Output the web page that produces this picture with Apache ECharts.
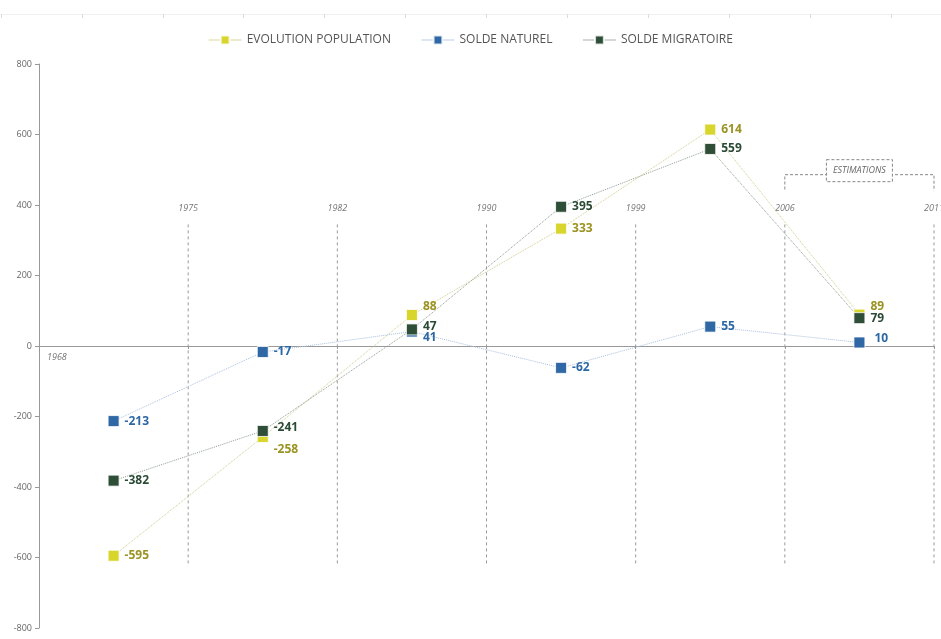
<!DOCTYPE html>
<html>
<head>
<meta charset="utf-8">
<script src="https://cdn.jsdelivr.net/npm/echarts@6/dist/echarts.min.js"></script>
<style>
  html, body { margin: 0; padding: 0; background: #fff; }
  #chart { width: 941px; height: 639px; }
</style>
</head>
<body>
<div id="chart"></div>
<script>
// Periods between censuses (one point per period) and the census years bounding them
const periods = ['1968-1975', '1975-1982', '1982-1990', '1990-1999', '1999-2006', '2006-2011'];
const yearMarks = ['1968', '1975', '1982', '1990', '1999', '2006', '2011'];

// Values per period
const evolutionPopulation = [-595, -258, 88, 333, 614, 89];
const soldeNaturel = [-213, -17, 41, -62, 55, 10];
const soldeMigratoire = [-382, -241, 47, 395, 559, 79];

const seriesNames = ['EVOLUTION POPULATION', 'SOLDE NATUREL', 'SOLDE MIGRATOIRE'];
const estimationsText = 'ESTIMATIONS';

// Y axis range
const yMin = -800, yMax = 800, yStep = 200;

// Small nudges for value labels that would otherwise collide
const popLabelShift = [[0, 0], [0, 13], [0, -8], [0, 0], [0, 0], [0, -8]];
const natLabelShift = [[0, 0], [0, 0], [0, 6], [0, 0], [0, 0], [4, -4]];
const migLabelShift = [[0, 0], [0, -3], [0, -3], [0, 0], [0, 0], [0, 0]];

const FONT = '"Open Sans", "DejaVu Sans", sans-serif';

function lineSeries(name, values, shifts, markerColor, lineColor, labelColor) {
  return {
    name: name,
    type: 'line',
    xAxisIndex: 0,
    yAxisIndex: 0,
    data: values.map((v, i) => ({ value: v, label: { offset: shifts[i] } })),
    symbol: 'rect',
    symbolSize: 11,
    z: 5,
    lineStyle: { color: lineColor, width: 1, type: 'dotted' },
    itemStyle: { color: markerColor, borderColor: 'rgba(255,255,255,0.8)', borderWidth: 1 },
    label: {
      show: true,
      position: 'right',
      distance: 5,
      color: labelColor,
      fontWeight: 'bold',
      fontSize: 12,
      fontFamily: FONT
    },
    emphasis: { disabled: true }
  };
}

const chart = echarts.init(document.getElementById('chart'), null, { renderer: 'canvas' });

chart.setOption({
  animation: false,
  backgroundColor: '#fff',
  legend: {
    top: 29,
    left: 'center',
    itemWidth: 33,
    itemHeight: 11,
    itemGap: 30,
    data: seriesNames,
    lineStyle: { type: 'solid', width: 1, opacity: 0.8 },
    textStyle: { color: '#555', fontSize: 12, fontFamily: FONT }
  },
  grid: [
    { left: 39, right: 7, top: 64, bottom: 11, containLabel: false },
    { left: 1, right: 0, top: 13, height: 1 }
  ],
  xAxis: [
    {
      type: 'category',
      gridIndex: 0,
      data: periods,
      boundaryGap: true,
      axisLine: { onZero: true, lineStyle: { color: '#999', width: 1 } },
      axisTick: { show: true, length: 3, lineStyle: { color: '#999' } },
      axisLabel: { show: false },
      splitLine: { show: false }
    },
    {
      // census boundaries: 0 = 1968 ... 6 = 2011
      type: 'value',
      gridIndex: 0,
      min: 0,
      max: yearMarks.length - 1,
      show: false
    },
    {
      // faint ruler across the top
      type: 'value',
      gridIndex: 1,
      min: 0,
      max: 11.62,
      interval: 1,
      position: 'top',
      axisLine: { show: true, lineStyle: { color: '#f0f0f0' } },
      axisTick: { show: true, inside: true, length: 4, lineStyle: { color: '#dcdcdc' } },
      axisLabel: { show: false },
      splitLine: { show: false }
    }
  ],
  yAxis: [
    {
      type: 'value',
      gridIndex: 0,
      min: yMin,
      max: yMax,
      interval: yStep,
      axisLine: { show: true, lineStyle: { color: '#999', width: 1 } },
      axisTick: { show: true, length: 4, lineStyle: { color: '#999' } },
      axisLabel: { color: '#666', fontSize: 9, fontFamily: FONT, margin: 7 },
      splitLine: { show: false }
    },
    { type: 'value', gridIndex: 1, show: false, min: 0, max: 1 }
  ],
  series: [
    // census year markers and dashed separators
    {
      type: 'custom',
      xAxisIndex: 1,
      yAxisIndex: 0,
      silent: true,
      z: 1,
      data: yearMarks.map((y, i) => [i]),
      renderItem: function (params, api) {
        const i = api.value(0);
        const text = yearMarks[i];
        const textStyle = { text: text, fill: '#777', font: 'italic 9px ' + FONT };
        if (i === 0) {
          const p = api.coord([0, 0]);
          return {
            type: 'text', x: p[0] + 8, y: p[1] + 11,
            style: Object.assign({ align: 'left', verticalAlign: 'middle' }, textStyle)
          };
        }
        const top = api.coord([i, 345]);
        const bot = api.coord([i, -620]);
        const lab = api.coord([i, 390]);
        return {
          type: 'group',
          children: [
            {
              type: 'line',
              shape: { x1: top[0], y1: top[1], x2: bot[0], y2: bot[1] },
              style: { stroke: '#9a9a9a', lineWidth: 1, lineDash: [3, 3] }
            },
            {
              type: 'text', x: lab[0], y: lab[1],
              style: Object.assign({ align: 'center', verticalAlign: 'middle' }, textStyle)
            }
          ]
        };
      }
    },
    // bracket flagging the estimated period
    {
      type: 'custom',
      xAxisIndex: 1,
      yAxisIndex: 0,
      silent: true,
      z: 2,
      data: [[yearMarks.length - 2, yearMarks.length - 1]],
      renderItem: function (params, api) {
        const a = api.value(0), b = api.value(1);
        const l1 = api.coord([a, 444]), l0 = api.coord([a, 486]);
        const r0 = api.coord([b, 486]), r1 = api.coord([b, 440]);
        const c = api.coord([(a + b) / 2, 486]);
        const w = 66, h = 22;
        const dash = { stroke: '#888', lineWidth: 1, lineDash: [3, 2], fill: null };
        return {
          type: 'group',
          children: [
            { type: 'polyline', shape: { points: [l1, l0, r0, r1] }, style: dash },
            {
              type: 'rect',
              shape: { x: c[0] - w / 2, y: c[1] - h / 2 - 4, width: w, height: h },
              style: Object.assign({}, dash, { fill: '#fff' })
            },
            {
              type: 'text', x: c[0], y: c[1] - 4,
              style: { text: estimationsText, fill: '#666', font: 'italic 9px ' + FONT, align: 'center', verticalAlign: 'middle' }
            }
          ]
        };
      }
    },
    lineSeries(seriesNames[0], evolutionPopulation, popLabelShift, '#d8d52c', '#cfcc8a', '#9a9222'),
    lineSeries(seriesNames[1], soldeNaturel, natLabelShift, '#2f68a5', '#a9c0de', '#2d68a6'),
    lineSeries(seriesNames[2], soldeMigratoire, migLabelShift, '#2f4e38', '#8e9e90', '#2b4a36')
  ]
});
</script>
</body>
</html>
